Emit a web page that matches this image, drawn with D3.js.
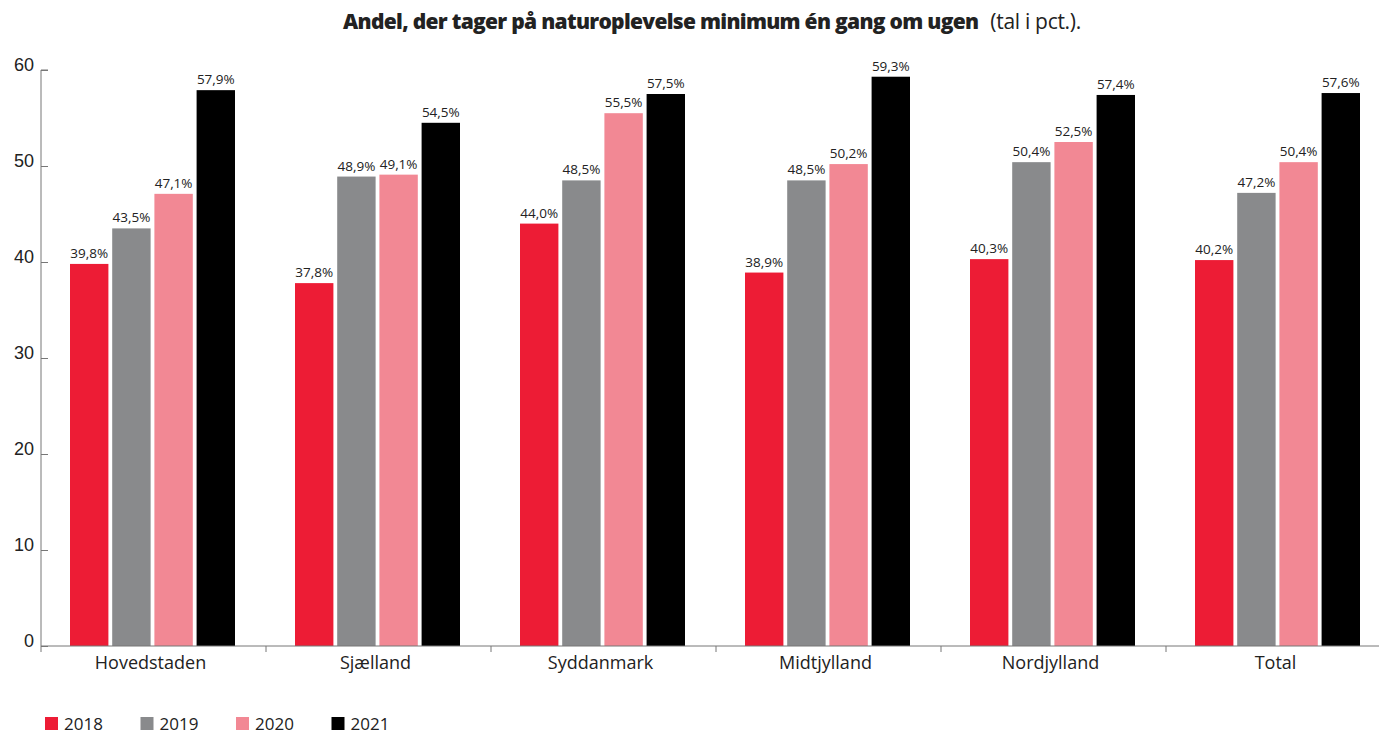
<!DOCTYPE html>
<html>
<head>
<meta charset="utf-8">
<script src="https://cdn.jsdelivr.net/npm/d3@7/dist/d3.min.js"></script>
<style>
  body { margin: 0; background: #fff; }
  svg { display: block; font-family: "Open Sans", Lato, sans-serif; }
</style>
</head>
<body>
<svg id="chart" width="1379" height="734"></svg>
<script>
const regions = ["Hovedstaden", "Sjælland", "Syddanmark", "Midtjylland", "Nordjylland", "Total"];
const years = ["2018", "2019", "2020", "2021"];
const values2018 = [39.8, 37.8, 44.0, 38.9, 40.3, 40.2];
const values2019 = [43.5, 48.9, 48.5, 48.5, 50.4, 47.2];
const values2020 = [47.1, 49.1, 55.5, 50.2, 52.5, 50.4];
const values2021 = [57.9, 54.5, 57.5, 59.3, 57.4, 57.6];
const yTicks = [0, 10, 20, 30, 40, 50, 60];
const colors = ["#ED1C35", "#898A8C", "#F28894", "#000000"];

const seriesByYear = [values2018, values2019, values2020, values2021];
const rows = regions.map((r, i) => ({
  region: r,
  bars: years.map((y, j) => ({ year: y, value: seriesByYear[j][i], color: colors[j] }))
}));

const svg = d3.select("#chart");
const plotLeft = 41, plotRight = 1391, plotTop = 70, plotBottom = 646;

const x0 = d3.scaleBand().domain(regions).range([plotLeft, plotRight]).padding(0);
const x1 = d3.scaleBand().domain(years).range([29, 194]).paddingInner(0.09).paddingOuter(0);
const y = d3.scaleLinear().domain([0, 60]).range([plotBottom, plotTop]);

const fmt = v => v.toFixed(1).replace(".", ",") + "%";

// title
const title = svg.append("text")
  .attr("x", 712).attr("y", 29)
  .attr("text-anchor", "middle")
  .attr("fill", "#222")
  .style("font-size", "21px");
title.append("tspan").attr("font-weight", 800).style("letter-spacing", "-0.7px")
  .text("Andel, der tager på naturoplevelse minimum én gang om ugen");
title.append("tspan").attr("font-weight", 400).attr("dx", 12).style("letter-spacing", "-0.3px").text("(tal i pct.).");

// bars
const groups = svg.append("g").selectAll("g").data(rows).join("g")
  .attr("transform", d => `translate(${x0(d.region)},0)`);

groups.selectAll("rect").data(d => d.bars).join("rect")
  .attr("x", d => x1(d.year))
  .attr("width", x1.bandwidth())
  .attr("y", d => y(d.value))
  .attr("height", d => y(0) - y(d.value))
  .attr("fill", d => d.color);

groups.selectAll("text").data(d => d.bars).join("text")
  .attr("x", d => x1(d.year) + x1.bandwidth() / 2)
  .attr("y", d => y(d.value) - 6)
  .attr("text-anchor", "middle")
  .attr("fill", "#222")
  .style("font-size", "13.5px")
  .text(d => fmt(d.value));

// y axis
const yAxis = d3.axisRight(y).tickValues(yTicks).tickSize(7).tickFormat(d3.format("d"));
const gy = svg.append("g").attr("transform", `translate(${plotLeft},0)`).call(yAxis);
gy.select(".domain").attr("stroke", "#777").attr("d", `M7,${plotTop}H0V${plotBottom}`);
gy.selectAll(".tick line").attr("stroke", "#777");
gy.selectAll(".tick text")
  .attr("x", -7).attr("text-anchor", "end").attr("dy", "0.05em")
  .attr("fill", "#222").style("font-size", "18px");

// x axis
const gx = svg.append("g").attr("transform", `translate(0,${plotBottom})`);
gx.append("line").attr("x1", plotLeft).attr("x2", 1379).attr("stroke", "#777");
gx.selectAll("line.sep").data(regions).join("line")
  .attr("class", "sep")
  .attr("x1", d => x0(d)).attr("x2", d => x0(d))
  .attr("y1", 0).attr("y2", 6).attr("stroke", "#777");
gx.selectAll("text").data(regions).join("text")
  .attr("x", d => x0(d) + x0.bandwidth() / 2 - 3)
  .attr("y", 23)
  .attr("text-anchor", "middle")
  .attr("fill", "#222")
  .style("font-size", "18px")
  .text(d => d);

// legend
const legend = svg.append("g").selectAll("g").data(years).join("g")
  .attr("transform", (d, i) => `translate(${45 + i * 95.5},717)`);
legend.append("rect").attr("width", 13).attr("height", 13).attr("fill", (d, i) => colors[i]);
legend.append("text").attr("x", 19).attr("y", 13).attr("fill", "#222")
  .style("font-size", "17px").text(d => d);
</script>
</body>
</html>
